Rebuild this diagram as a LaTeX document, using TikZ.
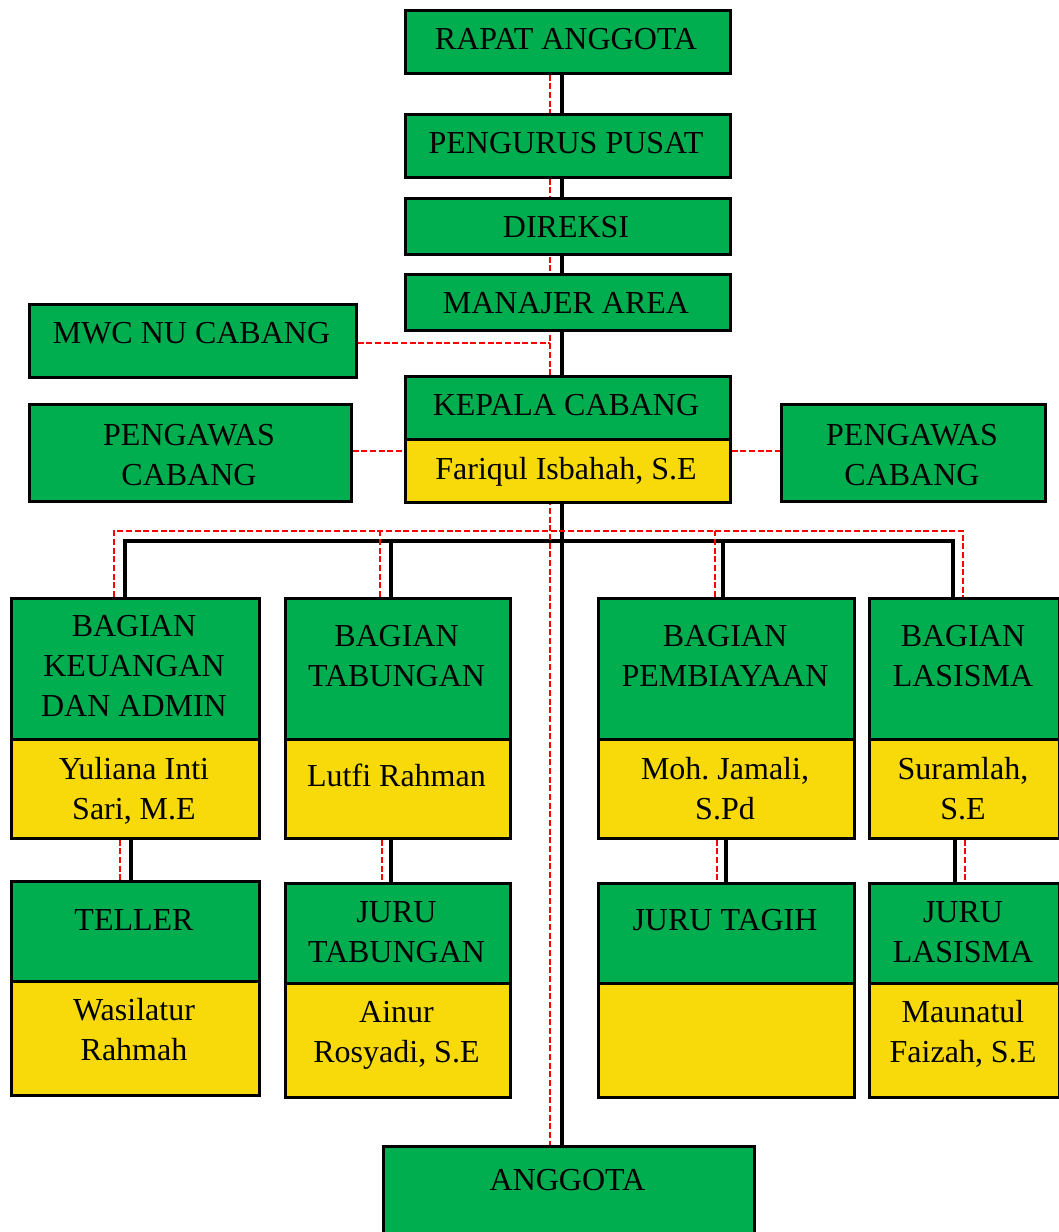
\documentclass[tikz,border=0pt]{standalone}
\usepackage{fontspec}
\setmainfont{Liberation Serif}
\usetikzlibrary{backgrounds}
\frenchspacing
\definecolor{bgreen}{HTML}{00AE50}
\definecolor{byellow}{HTML}{F8DA0A}
\definecolor{dred}{HTML}{FF0000}
\tikzset{
  box/.style={draw=black, line width=2pt, inner sep=0pt, anchor=north west},
  gbox/.style={box, fill=bgreen},
  ybox/.style={box, fill=byellow},
  txt/.style={font=\fontsize{24}{30}\selectfont\frenchspacing, align=center, inner sep=0pt, anchor=base},
  blk/.style={line width=3pt, draw=black},
  rdash/.style={line width=1.4pt, draw=dred, dash pattern=on 4.5pt off 2pt},
}
\newcommand\bx[6]{\node[#6, minimum width={(#4-#2)*0.75pt}, minimum height={(#5-#3)*0.75pt}] (#1) at (#2,#3) {};}
\begin{document}
\begin{tikzpicture}[x=0.75pt, y=-0.75pt]
\useasboundingbox (0,0) rectangle (1059,1232);
% boxes
\bx{rapat}{404}{9}{729}{72}{gbox}
\bx{pengurus}{404}{113}{729}{176}{gbox}
\bx{direksi}{404}{197}{729}{253}{gbox}
\bx{manajer}{404}{273}{729}{329}{gbox}
\bx{mwc}{28}{303}{355}{376}{gbox}
\bx{kepala}{404}{375}{729}{438}{gbox}
\bx{fariqul}{404}{438}{729}{501}{ybox}
\bx{pengL}{28}{403}{350}{500}{gbox}
\bx{pengR}{780}{403}{1044}{500}{gbox}
\bx{keu}{10}{597}{258}{738}{gbox}
\bx{keuY}{10}{738}{258}{837}{ybox}
\bx{tab}{284}{597}{509}{738}{gbox}
\bx{tabY}{284}{738}{509}{837}{ybox}
\bx{pem}{597}{597}{853}{738}{gbox}
\bx{pemY}{597}{738}{853}{837}{ybox}
\bx{las}{868}{597}{1058}{738}{gbox}
\bx{lasY}{868}{738}{1058}{837}{ybox}
\bx{teller}{10}{880}{258}{980}{gbox}
\bx{tellerY}{10}{980}{258}{1094}{ybox}
\bx{jtab}{284}{882}{509}{982}{gbox}
\bx{jtabY}{284}{982}{509}{1096}{ybox}
\bx{jtag}{597}{882}{853}{982}{gbox}
\bx{jtagY}{597}{982}{853}{1096}{ybox}
\bx{jlas}{868}{882}{1058}{982}{gbox}
\bx{jlasY}{868}{982}{1058}{1096}{ybox}
\bx{anggota}{382}{1145}{753}{1240}{gbox}
% texts (anchor base = baseline of the last line)
\node[txt] (t_rapat) at (566,49.3) {RAPAT ANGGOTA};
\node[txt] (t_pengurus) at (566,153) {PENGURUS PUSAT};
\node[txt] (t_direksi) at (566,237) {DIREKSI};
\node[txt] (t_manajer) at (566,313) {MANAJER AREA};
\node[txt] (t_mwc) at (191.5,343) {MWC NU CABANG};
\node[txt] (t_kepala) at (566,415) {KEPALA CABANG};
\node[txt] (t_fariqul) at (566,479) {Fariqul Isbahah, S.E};
\node[txt] (t_pengL) at (189,485) {PENGAWAS\\CABANG};
\node[txt] (t_pengR) at (912,485) {PENGAWAS\\CABANG};
\node[txt] (t_keu) at (134,716) {BAGIAN\\KEUANGAN\\DAN ADMIN};
\node[txt] (t_tab) at (396.5,686) {BAGIAN\\TABUNGAN};
\node[txt] (t_pem) at (725,686) {BAGIAN\\PEMBIAYAAN};
\node[txt] (t_las) at (963,686) {BAGIAN\\LASISMA};
\node[txt] (t_keuY) at (134,819) {Yuliana Inti\\Sari, M.E};
\node[txt] (t_tabY) at (396.5,786) {Lutfi Rahman};
\node[txt] (t_pemY) at (725,819) {Moh. Jamali,\\S.Pd};
\node[txt] (t_lasY) at (963,819) {Suramlah,\\S.E};
\node[txt] (t_teller) at (134,930) {TELLER};
\node[txt] (t_jtab) at (396.5,962) {JURU\\TABUNGAN};
\node[txt] (t_jtag) at (725,930) {JURU TAGIH};
\node[txt] (t_jlas) at (963,962) {JURU\\LASISMA};
\node[txt] (t_tellerY) at (134,1060) {Wasilatur\\Rahmah};
\node[txt] (t_jtabY) at (396.5,1062) {Ainur\\Rosyadi, S.E};
\node[txt] (t_jlasY) at (963,1062) {Maunatul\\Faizah, S.E};
\node[txt] (t_anggota) at (567.5,1190) {ANGGOTA};
% connector coordinates
\coordinate (mx) at (562,0);
\coordinate (rx) at (550,0);
\coordinate (bL) at (125,541);
\coordinate (bR) at (953,541);
\coordinate (b2) at (390.5,541);
\coordinate (b3) at (723,541);
\coordinate (rL) at (114,531);
\coordinate (rR) at (963,531);
\coordinate (r2) at (380,531);
\coordinate (r3) at (715,531);
\coordinate (mwcJ) at (550,343);
\coordinate (pY) at (0,451);
\coordinate (k1) at (131,0);
\coordinate (k1r) at (120,0);
\coordinate (k2) at (390.5,0);
\coordinate (k2r) at (382,0);
\coordinate (k3) at (725.7,0);
\coordinate (k3r) at (717,0);
\coordinate (k4) at (955,0);
\coordinate (k4r) at (965,0);
\begin{scope}[on background layer]
\draw[blk] (rapat.south -| mx) -- (anggota.north -| mx);
\draw[blk] (keu.north -| bL) -- (bL) -- (bR) -- (las.north -| bR);
\draw[blk] (tab.north -| b2) -- (b2);
\draw[blk] (pem.north -| b3) -- (b3);
\draw[rdash] (rapat.south -| rx) -- (anggota.north -| rx);
\draw[rdash] (keu.north -| rL) -- (rL) -- (rR) -- (las.north -| rR);
\draw[rdash] (tab.north -| r2) -- (r2);
\draw[rdash] (pem.north -| r3) -- (r3);
\draw[rdash] (mwc.east |- mwcJ) -- (mwcJ);
\draw[rdash] (pengL.east |- pY) -- (fariqul.west |- pY);
\draw[rdash] (fariqul.east |- pY) -- (pengR.west |- pY);
\draw[blk] (keuY.south -| k1) -- (teller.north -| k1);
\draw[rdash] (keuY.south -| k1r) -- (teller.north -| k1r);
\draw[blk] (tabY.south -| k2) -- (jtab.north -| k2);
\draw[rdash] (tabY.south -| k2r) -- (jtab.north -| k2r);
\draw[blk] (pemY.south -| k3) -- (jtag.north -| k3);
\draw[rdash] (pemY.south -| k3r) -- (jtag.north -| k3r);
\draw[blk] (lasY.south -| k4) -- (jlas.north -| k4);
\draw[rdash] (lasY.south -| k4r) -- (jlas.north -| k4r);
\end{scope}
\end{tikzpicture}
\end{document}
